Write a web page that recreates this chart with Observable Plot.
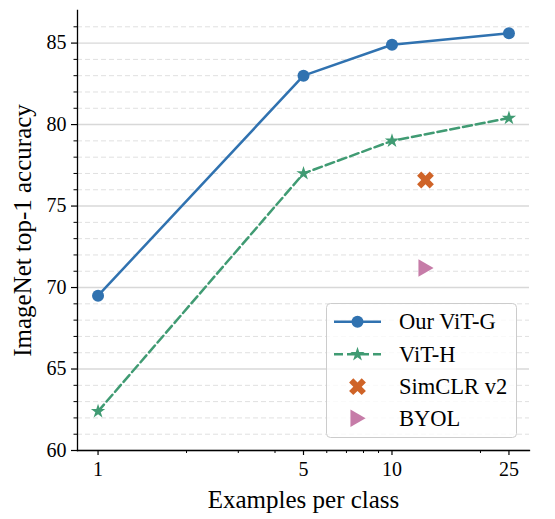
<!DOCTYPE html>
<html>
<head>
<meta charset="utf-8">
<script src="https://cdn.jsdelivr.net/npm/d3@7"></script>
<script src="https://cdn.jsdelivr.net/npm/@observablehq/plot@0.6"></script>
<style>
  html, body { margin: 0; padding: 0; background: white; }
  #wrap { position: relative; width: 555px; height: 519px; }
  #legend { position: absolute; left: 326px; top: 303px; }
</style>
</head>
<body>
<div id="wrap"></div>
<script>
// ---- data ----
const shots = [1, 5, 10, 25];
const vitG = [69.5, 83.0, 84.9, 85.6];
const vitH = [62.4, 77.0, 79.0, 80.4];
const simclrX = [13];
const simclrY = [76.6];
const byolX = [13];
const byolY = [71.2];
const xMajorTicks = [1, 5, 10, 25];
const xMinorTicks = [2, 3, 4, 6, 7, 8, 9, 20];
const yMajorTicks = [60, 65, 70, 75, 80, 85];
const yMinorTicks = [61, 62, 63, 64, 66, 67, 68, 69, 71, 72, 73, 74, 76, 77, 78, 79, 81, 82, 83, 84, 86];
const seriesNames = ["Our ViT-G", "ViT-H", "SimCLR v2", "BYOL"];
const xLabel = "Examples per class";
const yLabel = "ImageNet top-1 accuracy";

const BLUE = "#3072b0", GREEN = "#409b73", ORANGE = "#cf6327", PINK = "#c67ca8";
const FONT = "'Liberation Serif', 'Times New Roman', serif";

const gRows = shots.map((s, i) => ({x: s, y: vitG[i]}));
const hRows = shots.map((s, i) => ({x: s, y: vitH[i]}));
const sRows = simclrX.map((s, i) => ({x: s, y: simclrY[i]}));
const bRows = byolX.map((s, i) => ({x: s, y: byolY[i]}));

const STAR_R = 4.5;
const m = 0.05 * Math.log10(25);
const chart = Plot.plot({
  width: 555,
  height: 519,
  marginLeft: 77,
  marginRight: 26,
  marginTop: 10,
  marginBottom: 69,
  x: {type: "log", domain: [Math.pow(10, -m), 25 * Math.pow(10, m)]},
  y: {domain: [60, 87]},
  style: {fontFamily: FONT, fontSize: "20px", color: "black", background: "white", overflow: "visible"},
  marks: [
    Plot.gridY(yMinorTicks, {stroke: "#e0e0e0", strokeOpacity: 1, strokeWidth: 1, strokeDasharray: "5,3"}),
    Plot.gridY(yMajorTicks, {stroke: "#d8d8d8", strokeOpacity: 1, strokeWidth: 1.4}),
    Plot.axisY(yMinorTicks, {tickSize: 3.5, text: d => "", label: null, strokeWidth: 1}),
    Plot.axisY(yMajorTicks, {tickSize: 6, tickPadding: 5, text: d => String(d), fontSize: 20, label: null, strokeWidth: 1.2}),
    Plot.axisY({ticks: [], tickSize: 0, label: yLabel, labelAnchor: "center", labelArrow: "none", labelOffset: 64, fontSize: 25}),
    Plot.axisX(xMinorTicks, {tickSize: 3, text: d => "", label: null, strokeWidth: 1}),
    Plot.axisX(xMajorTicks, {tickSize: 5, tickPadding: 6, text: d => String(d), fontSize: 20, label: null, strokeWidth: 1.2}),
    Plot.axisX({ticks: [], tickSize: 0, label: xLabel, labelAnchor: "center", labelArrow: "none", labelOffset: 57, fontSize: 25}),
    Plot.frame({anchor: "left", stroke: "black", strokeWidth: 1.3}),
    Plot.frame({anchor: "bottom", stroke: "black", strokeWidth: 1.3}),
    Plot.line(gRows, {x: "x", y: "y", stroke: BLUE, strokeWidth: 2.5}),
    Plot.dot(gRows, {x: "x", y: "y", r: 6, fill: BLUE, symbol: "circle"}),
    Plot.line(hRows, {x: "x", y: "y", stroke: GREEN, strokeWidth: 2.5, strokeDasharray: "9,4"}),
    Plot.dot(hRows, {x: "x", y: "y", r: STAR_R, fill: GREEN, symbol: "star"}),
    Plot.dot(sRows, {x: "x", y: "y", r: 7.5, fill: ORANGE, symbol: "cross", rotate: 45}),
    Plot.dot(bRows, {x: "x", y: "y", r: 6.5, fill: PINK, symbol: "triangle", rotate: 90, dx: -2})
  ]
});

const wrap = document.getElementById("wrap");
wrap.appendChild(chart);

// ---- legend (overlay) ----
const lg = d3.create("svg").attr("id", "legend").attr("width", 192).attr("height", 136)
  .style("font-family", FONT);
lg.append("rect").attr("x", 0.5).attr("y", 0.5).attr("width", 190).attr("height", 134)
  .attr("rx", 4).attr("fill", "white").attr("fill-opacity", 0.8).attr("stroke", "#cccccc");
const rowY = [18.7, 51.3, 83.7, 115.3];
const items = [
  {name: seriesNames[0], color: BLUE, line: true, dash: null, sym: d3.symbolCircle, size: Math.PI * 36, rot: 0},
  {name: seriesNames[1], color: GREEN, line: true, dash: "9,4", sym: d3.symbolStar, size: Math.PI * STAR_R * STAR_R, rot: 0},
  {name: seriesNames[2], color: ORANGE, line: false, sym: d3.symbolCross, size: Math.PI * 7.5 * 7.5, rot: 45},
  {name: seriesNames[3], color: PINK, line: false, sym: d3.symbolTriangle, size: Math.PI * 6.5 * 6.5, rot: 90, dx: -2}
];
items.forEach((it, i) => {
  const g = lg.append("g").attr("transform", `translate(0,${rowY[i]})`);
  if (it.line) {
    g.append("line").attr("x1", 8).attr("x2", 55).attr("y1", 0).attr("y2", 0)
      .attr("stroke", it.color).attr("stroke-width", 2.5)
      .attr("stroke-dasharray", it.dash);
  }
  g.append("path").attr("d", d3.symbol(it.sym, it.size)())
    .attr("transform", `translate(${31.5 + (it.dx || 0)},0) rotate(${it.rot})`)
    .attr("fill", it.color);
  g.append("text").attr("x", 73).attr("y", 7.5).attr("font-size", 22.5).attr("fill", "black").text(it.name);
});
wrap.appendChild(lg.node());
</script>
</body>
</html>
